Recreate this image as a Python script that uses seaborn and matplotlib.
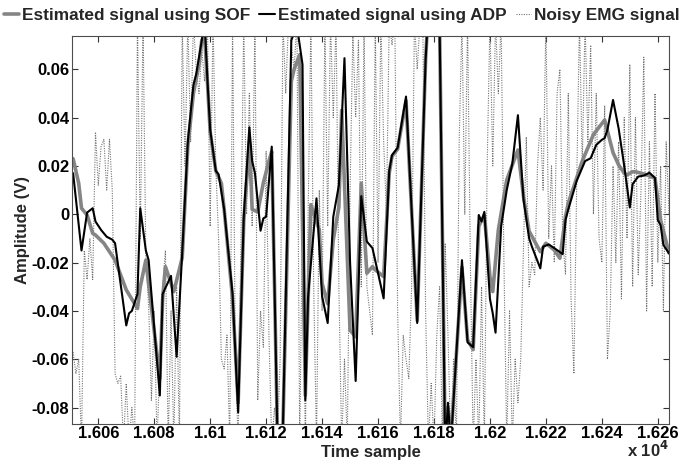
import numpy as np
import pandas as pd
import matplotlib
matplotlib.use("Agg")
import matplotlib.pyplot as plt
import seaborn as sns

# ---- data ----
sof_t = [16051, 16053, 16054, 16056, 16058, 16059, 16062, 16066, 16070, 16074, 16075, 16077,
         16082, 16083, 16084, 16087, 16090, 16092, 16094, 16096, 16097, 16098, 16099, 16100,
         16102, 16104, 16105, 16108, 16110, 16112, 16114, 16115, 16117, 16119, 16121, 16122,
         16123, 16124, 16125, 16126, 16129, 16130, 16132, 16134, 16136, 16139, 16140, 16142,
         16144, 16146, 16147, 16150, 16152, 16154, 16156, 16158, 16159, 16162, 16164, 16165,
         16167, 16170, 16174, 16177, 16178, 16180, 16182, 16184, 16185, 16186, 16190, 16192,
         16194, 16196, 16198, 16200, 16201, 16203, 16206, 16210, 16212, 16214, 16217, 16218,
         16220, 16223, 16225, 16227, 16228, 16233, 16237, 16241, 16244, 16246, 16248, 16249,
         16251, 16252, 16254, 16256, 16259, 16261, 16264]
sof_v = [0.023, 0.0128, 0.0025, -0.0003, -0.0079, -0.0086, -0.012, -0.019, -0.0313, -0.039, -0.030, -0.019,
         -0.068, -0.035, -0.0217, -0.032, -0.018, 0.028, 0.050, 0.062, 0.072, 0.074, 0.055, 0.034,
         0.018, 0.0128, 0.002, -0.035, -0.078, -0.003, 0.030, 0.002, 0.001, 0.013, 0.022, 0.026,
         -0.030, -0.090, -0.108, -0.088, 0.055, 0.060, 0.066, -0.075, 0.004, -0.0065, -0.0286, -0.037,
         -0.0106, 0.003, 0.043, -0.048, -0.0507, 0.0128, -0.0244, -0.0217, -0.023, -0.0258, 0.017, 0.024,
         0.027, 0.047, -0.044, 0.064, 0.085, 0.100, 0.078, -0.095, -0.080, -0.094, -0.022, -0.052,
         -0.056, -0.005, -0.0003, -0.0258, -0.032, -0.0065, 0.0142, 0.0266, 0.0073, -0.007, -0.0134, -0.0155,
         -0.012, -0.0148, -0.0182, -0.001, 0.0046, 0.022, 0.033, 0.039, 0.0255, 0.0204, 0.017, 0.0163,
         0.0176, 0.0176, 0.017, 0.0163, 0.0149, -0.0024, -0.016]

adp_t = [16051, 16054, 16056, 16058, 16059, 16061, 16063, 16065, 16066, 16070, 16071, 16072,
         16074, 16075, 16077, 16078, 16082, 16083, 16085, 16086, 16088, 16090, 16092, 16094,
         16095, 16097, 16098, 16099, 16100, 16102, 16103, 16105, 16108, 16110, 16112, 16114,
         16115, 16116, 16118, 16119, 16120, 16122, 16123, 16124, 16125, 16126, 16129, 16131,
         16133, 16134, 16135, 16138, 16140, 16142, 16144, 16146, 16148, 16150, 16152, 16154,
         16156, 16158, 16162, 16164, 16165, 16167, 16170, 16174, 16177, 16178, 16180, 16182,
         16184, 16185, 16186, 16190, 16192, 16194, 16196, 16197, 16198, 16200, 16201, 16202,
         16204, 16206, 16208, 16210, 16212, 16214, 16215, 16218, 16219, 16221, 16223, 16226,
         16227, 16228, 16231, 16234, 16236, 16238, 16240, 16241, 16242, 16244, 16246, 16248,
         16250, 16251, 16253, 16255, 16257, 16259, 16260, 16261, 16262, 16264]
adp_v = [0.017, -0.015, 0.0007, 0.0025, -0.003, -0.0065, -0.0093, -0.0105, -0.012, -0.046, -0.041, -0.040,
         -0.033, 0.0025, -0.015, -0.019, -0.075, -0.033, -0.028, -0.0255, -0.059, -0.016, 0.030, 0.0535,
         0.058, 0.072, 0.080, 0.056, 0.035, 0.018, 0.0165, 0.002, -0.033, -0.082, -0.001, 0.036,
         0.022, 0.017, -0.0068, -0.0017, -0.001, 0.028, -0.030, -0.090, -0.110, -0.088, 0.072, 0.078,
         0.062, -0.077, -0.034, 0.0066, -0.034, -0.045, -0.001, 0.012, 0.0646, -0.020, -0.069, 0.0075,
         -0.0113, -0.014, -0.0348, 0.018, 0.0245, 0.0275, 0.0487, -0.045, 0.064, 0.085, 0.100, 0.078,
         -0.098, -0.078, -0.096, -0.019, -0.053, -0.055, -0.0003, -0.003, 0.001, -0.035, -0.041, -0.049,
         -0.005, 0.010, 0.021, 0.041, 0.006, -0.0099, -0.0134, -0.0224, -0.0134, -0.0125, -0.014, -0.0165,
         -0.0024, 0.002, 0.0138, 0.022, 0.0232, 0.0287, 0.0308, 0.0315, 0.035, 0.0473, 0.0355, 0.020,
         0.0028, 0.0125, 0.0156, 0.016, 0.0172, 0.015, -0.0024, -0.0045, -0.0127, -0.0162]

noisy_t = list(range(16051, 16265))
noisy_v = [-0.057, -0.066, -0.060, -0.095, -0.015, -0.027, -0.010, -0.027, 0.034, 0.012,
           0.028, 0.031, 0.010, 0.031, 0.010, -0.066, -0.070, -0.067, -0.095, -0.070,
           -0.095, -0.080, -0.095, 0.080, -0.010, 0.080, -0.018, -0.038, -0.077, -0.040,
           -0.095, -0.060, -0.030, -0.015, -0.095, -0.040, -0.095, -0.030, -0.095, 0.080,
           0.020, 0.080, 0.030, 0.080, 0.060, 0.050, 0.068, 0.055, 0.080, -0.005,
           0.080, 0.020, -0.010, -0.060, -0.064, -0.050, -0.095, 0.080, -0.060, -0.095,
           -0.010, 0.080, 0.000, 0.050, -0.005, 0.080, -0.077, -0.040, -0.055, 0.026,
           -0.050, -0.095, -0.080, -0.095, -0.060, 0.080, 0.050, 0.080, 0.070, 0.060,
           0.080, -0.095, 0.002, -0.095, 0.000, 0.080, -0.030, -0.095, 0.010, -0.040,
           0.080, -0.005, 0.080, 0.040, 0.080, -0.030, -0.095, -0.060, -0.095, 0.010,
           0.075, 0.040, 0.072, -0.030, 0.080, -0.030, -0.040, -0.050, 0.080, -0.020,
           0.080, 0.030, 0.000, 0.080, 0.070, 0.080, -0.040, -0.095, -0.050, -0.060,
           -0.068, -0.030, 0.080, 0.060, 0.080, 0.080, -0.040, -0.095, -0.070, -0.095,
           -0.050, -0.030, -0.095, -0.012, -0.050, -0.095, -0.060, -0.095, 0.030, 0.080,
           0.000, 0.080, -0.020, -0.095, -0.060, -0.095, -0.030, -0.095, 0.020, 0.080,
           0.020, 0.080, 0.050, 0.080, -0.020, -0.095, -0.040, -0.095, -0.060, -0.078,
           -0.060, -0.013, 0.032, -0.030, -0.020, -0.025, 0.020, 0.040, 0.010, 0.080,
           -0.010, 0.020, -0.020, 0.050, 0.060, -0.010, -0.025, 0.050, -0.035, -0.066,
           0.012, 0.080, 0.020, 0.080, 0.030, 0.070, 0.000, 0.050, -0.010, -0.020,
           0.045, -0.060, -0.040, 0.020, -0.020, 0.030, -0.035, 0.040, -0.010, 0.062,
           -0.030, 0.040, -0.025, 0.010, 0.065, -0.040, 0.030, -0.030, 0.050, -0.020,
           0.020, -0.040, 0.030, 0.000]

xticks = [16060, 16080, 16100, 16120, 16140, 16160, 16180, 16200, 16220, 16240, 16260]
xtick_labels = ["1.606", "1.608", "1.61", "1.612", "1.614", "1.616", "1.618", "1.62", "1.622", "1.624", "1.626"]
yticks = [-0.08, -0.06, -0.04, -0.02, 0.0, 0.02, 0.04, 0.06]
ytick_labels = ["-0.08", "-0.06", "-0.04", "-0.02", "0", "0.02", "0.04", "0.06"]

labels = ["Estimated signal using SOF", "Estimated signal using ADP", "Noisy EMG signal"]

df_sof = pd.DataFrame({"t": sof_t, "v": sof_v})
df_adp = pd.DataFrame({"t": adp_t, "v": adp_v})
df_noisy = pd.DataFrame({"t": noisy_t, "v": noisy_v})

sns.set_style("ticks")
plt.rcParams["font.family"] = ["Liberation Sans", "DejaVu Sans"]
plt.rcParams["font.weight"] = "bold"
plt.rcParams["axes.labelweight"] = "bold"

fig = plt.figure(figsize=(6.83, 4.61), dpi=100)
ax = fig.add_axes([0.1054, 0.0813, 0.8745, 0.8413])

sns.lineplot(data=df_noisy, x="t", y="v", ax=ax, color="0.45", lw=0.8, linestyle=(0, (1, 1.2)),
             estimator=None, label=labels[2])
sns.lineplot(data=df_sof, x="t", y="v", ax=ax, color="#858585", lw=2.6,
             estimator=None, label=labels[0])
sns.lineplot(data=df_adp, x="t", y="v", ax=ax, color="black", lw=1.5,
             estimator=None, label=labels[1])

ax.set_xlim(16050.6, 16264.1)
ax.set_ylim(-0.0866, 0.0739)
ax.set_xticks(xticks)
ax.set_xticklabels(xtick_labels)
ax.set_yticks(yticks)
ax.set_yticklabels(ytick_labels)
ax.tick_params(direction="in", top=True, right=True, length=4, width=0.8,
               labelsize=12, pad=2, colors="0.2", labelcolor="black")
for s in ax.spines.values():
    s.set_color("0.3")
    s.set_linewidth(0.8)

ax.set_xlabel("Time sample", fontsize=12, fontweight="bold", labelpad=3)
ax.set_ylabel("Amplitude (V)", fontsize=12, fontweight="bold", labelpad=1)
ax.text(1.0, -0.068, r"x 10$^{4}$", transform=ax.transAxes, ha="right", va="center",
        fontsize=12, fontweight="bold")

h, l = ax.get_legend_handles_labels()
order = [l.index(x) for x in labels]
ax.get_legend().remove()
fig.legend([h[i] for i in order], [l[i] for i in order], loc="center",
           bbox_to_anchor=(0.5, 0.967), ncol=3, frameon=False, fontsize=12.4,
           handlelength=0.9, handletextpad=0.15, columnspacing=0.55)

fig.savefig("out.png", dpi=100)
